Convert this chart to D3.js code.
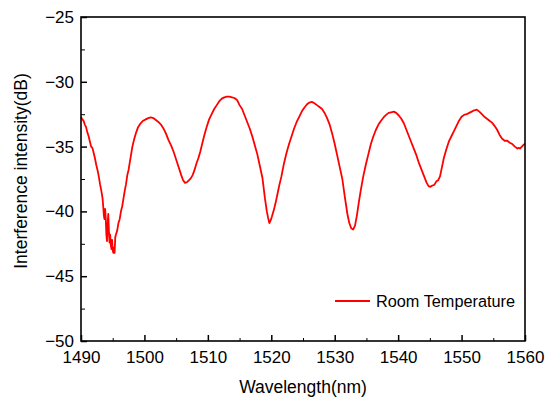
<!DOCTYPE html>
<html>
<head>
<meta charset="utf-8">
<script src="https://cdn.jsdelivr.net/npm/d3@7"></script>
<style>
  body { margin: 0; background: #fff; }
  text { font-family: Arial, "Liberation Sans", sans-serif; fill: #000; }
</style>
</head>
<body>
<div id="chart"></div>
<script>
// data
const wavelength = [
  1490.0, 1490.2, 1490.4, 1490.6, 1490.8, 1491.0, 1491.2, 1491.4, 1491.6, 1491.8,
  1492.0, 1492.2, 1492.4, 1492.6, 1492.8, 1493.0, 1493.2, 1493.4, 1493.5, 1493.6,
  1493.7, 1493.8, 1493.9, 1494.0, 1494.1, 1494.2, 1494.3, 1494.4, 1494.5, 1494.6,
  1494.7, 1494.8, 1494.9, 1495.0, 1495.1, 1495.2, 1495.3, 1495.4, 1495.5, 1495.7,
  1495.9, 1496.1, 1496.3, 1496.5, 1496.7, 1496.9, 1497.1, 1497.3, 1497.5, 1497.7,
  1497.9, 1498.1, 1498.4, 1498.7, 1499.0, 1499.4, 1499.8, 1500.2, 1500.6, 1501.0,
  1501.4, 1501.8, 1502.2, 1502.6, 1503.0, 1503.4, 1503.8, 1504.2, 1504.6, 1505.0,
  1505.4, 1505.8, 1506.1, 1506.4, 1506.7, 1507.0, 1507.3, 1507.6, 1507.9, 1508.2,
  1508.5, 1508.8, 1509.1, 1509.4, 1509.8, 1510.2, 1510.6, 1511.0, 1511.4, 1511.8,
  1512.2, 1512.6, 1513.0, 1513.4, 1513.8, 1514.2, 1514.6, 1515.0, 1515.4, 1515.8,
  1516.2, 1516.6, 1517.0, 1517.4, 1517.8, 1518.2, 1518.6, 1519.0, 1519.3, 1519.5,
  1519.7, 1519.9, 1520.1, 1520.4, 1520.7, 1521.0, 1521.3, 1521.6, 1522.0, 1522.4,
  1522.8, 1523.2, 1523.6, 1524.0, 1524.4, 1524.8, 1525.2, 1525.6, 1526.0, 1526.4,
  1526.8, 1527.2, 1527.6, 1528.0, 1528.4, 1528.8, 1529.2, 1529.6, 1530.0, 1530.4,
  1530.8, 1531.2, 1531.6, 1532.0, 1532.3, 1532.6, 1532.9, 1533.2, 1533.5, 1533.8,
  1534.1, 1534.5, 1534.9, 1535.3, 1535.7, 1536.1, 1536.5, 1536.9, 1537.3, 1537.7,
  1538.1, 1538.5, 1538.9, 1539.3, 1539.7, 1540.1, 1540.5, 1540.9, 1541.3, 1541.7,
  1542.1, 1542.5, 1542.9, 1543.3, 1543.7, 1544.1, 1544.5, 1544.8, 1545.1, 1545.4,
  1545.7, 1546.0, 1546.3, 1546.6, 1546.9, 1547.2, 1547.6, 1548.0, 1548.4, 1548.8,
  1549.2, 1549.6, 1550.0, 1550.4, 1550.8, 1551.2, 1551.6, 1552.0, 1552.4, 1552.8,
  1553.2, 1553.6, 1554.0, 1554.4, 1554.8, 1555.2, 1555.6, 1556.0, 1556.4, 1556.8,
  1557.2, 1557.6, 1558.0, 1558.4, 1558.8, 1559.0, 1559.2, 1559.5, 1559.8, 1560.0
];
const intensity = [
  -32.7, -32.9, -33.0, -33.3, -33.5, -33.9, -34.2, -34.6, -35.0, -35.1,
  -35.5, -35.9, -36.4, -36.8, -37.3, -37.9, -38.4, -39.0, -39.6, -40.3,
  -40.6, -39.8, -40.5, -41.8, -42.3, -41.0, -40.2, -41.5, -42.4, -41.8,
  -42.6, -42.9, -42.2, -43.0, -43.2, -42.8, -43.2, -42.0, -41.8, -41.5,
  -40.9, -40.6, -40.0, -39.6, -39.0, -38.4, -37.9, -37.2, -36.8, -36.2,
  -35.6, -35.0, -34.4, -33.9, -33.5, -33.2, -33.0, -32.9, -32.8, -32.75,
  -32.8, -32.95, -33.1, -33.3, -33.6, -34.0, -34.5, -34.9, -35.4, -36.0,
  -36.6, -37.2, -37.6, -37.8, -37.75, -37.6, -37.45, -37.2, -36.8, -36.3,
  -35.9, -35.4, -34.8, -34.2, -33.5, -32.9, -32.5, -32.1, -31.8, -31.5,
  -31.3, -31.2, -31.15, -31.15, -31.2, -31.25, -31.4, -31.8, -32.1, -32.6,
  -33.1, -33.6, -34.2, -34.9, -35.6, -36.5, -37.4, -39.0, -40.0, -40.5,
  -40.9, -40.7, -40.4, -39.9, -39.3, -38.6, -37.9, -37.3, -36.3, -35.5,
  -34.8, -34.2, -33.6, -33.1, -32.7, -32.3, -32.0, -31.75, -31.6, -31.55,
  -31.65, -31.8, -31.95, -32.1, -32.4, -32.8, -33.3, -34.0, -34.8, -35.7,
  -36.6, -37.5, -38.9, -40.2, -40.9, -41.3, -41.4, -41.1, -40.3, -39.3,
  -38.4, -37.3, -36.4, -35.6, -34.8, -34.2, -33.7, -33.3, -33.0, -32.75,
  -32.55, -32.4, -32.35, -32.3, -32.4, -32.6, -32.85, -33.2, -33.7, -34.2,
  -34.7, -35.2, -35.7, -36.3, -36.8, -37.3, -37.8, -38.05, -38.1, -38.0,
  -37.95, -37.7, -37.6, -37.3, -36.6, -35.9, -35.2, -34.6, -34.2, -33.8,
  -33.4, -33.0, -32.7, -32.55, -32.5, -32.4, -32.3, -32.2, -32.15, -32.3,
  -32.5, -32.7, -32.85, -33.0, -33.15, -33.4, -33.7, -34.1, -34.4, -34.55,
  -34.55, -34.7, -34.8, -35.0, -35.15, -35.1, -35.15, -35.0, -34.85, -34.8
];
const xTicks = [1490, 1500, 1510, 1520, 1530, 1540, 1550, 1560];
const yTicks = [-50, -45, -40, -35, -30, -25];
const seriesName = "Room Temperature";

const W = 548, H = 398;
const margin = {top: 17, right: 23, bottom: 57, left: 81};
const width = W - margin.left - margin.right;
const height = H - margin.top - margin.bottom;

const svg = d3.select("#chart").append("svg")
    .attr("width", W)
    .attr("height", H);

const g = svg.append("g")
    .attr("transform", `translate(${margin.left},${margin.top})`);

const x = d3.scaleLinear().domain([1490, 1560]).range([0, width]);
const y = d3.scaleLinear().domain([-50, -25]).range([height, 0]);

// minor ticks (inward, no labels)
const xMinor = d3.range(1495, 1560, 10);
const yMinor = d3.range(-47.5, -25, 5);

g.append("g")
    .attr("transform", `translate(0,${height})`)
    .call(d3.axisBottom(x).tickValues(xMinor).tickSize(-3).tickFormat(""))
    .call(a => a.select(".domain").remove());
g.append("g")
    .call(d3.axisLeft(y).tickValues(yMinor).tickSize(-4).tickFormat(""))
    .call(a => a.select(".domain").remove());

// major axes
const xAxis = g.append("g")
    .attr("transform", `translate(0,${height})`)
    .call(d3.axisBottom(x).tickValues(xTicks).tickSize(-6).tickPadding(10).tickFormat(d3.format("d")));
const yAxis = g.append("g")
    .call(d3.axisLeft(y).tickValues(yTicks).tickSize(-6).tickPadding(7).tickFormat(d3.format("d")));

[xAxis, yAxis].forEach(a => {
  a.selectAll("text").style("font-size", "17px").attr("fill", "#000");
  a.selectAll("line").attr("stroke", "#000").attr("stroke-width", 1.5);
  a.select(".domain").remove();
});

// data line
const pts = wavelength.map((w, i) => [w, intensity[i]]);
g.append("path")
    .datum(pts)
    .attr("fill", "none")
    .attr("stroke", "#ff0000")
    .attr("stroke-width", 1.8)
    .attr("stroke-linejoin", "round")
    .attr("d", d3.line().x(d => x(d[0])).y(d => y(d[1])));

// frame
g.append("rect")
    .attr("width", width)
    .attr("height", height)
    .attr("fill", "none")
    .attr("stroke", "#000")
    .attr("stroke-width", 1.6);

// axis titles
svg.append("text")
    .attr("x", margin.left + width / 2)
    .attr("y", 393)
    .attr("text-anchor", "middle")
    .style("font-size", "17.5px")
    .text("Wavelength(nm)");

svg.append("text")
    .attr("transform", `translate(27,${margin.top + height / 2 - 8}) rotate(-90)`)
    .attr("text-anchor", "middle")
    .style("font-size", "17.5px")
    .text("Interference intensity(dB)");

// legend
const lg = svg.append("g").attr("transform", "translate(335,301)");
lg.append("line")
    .attr("x1", 0).attr("x2", 35)
    .attr("stroke", "#ff0000").attr("stroke-width", 1.8);
lg.append("text")
    .attr("x", 41)
    .attr("y", 5.5)
    .style("font-size", "16.3px")
    .text(seriesName);
</script>
</body>
</html>
